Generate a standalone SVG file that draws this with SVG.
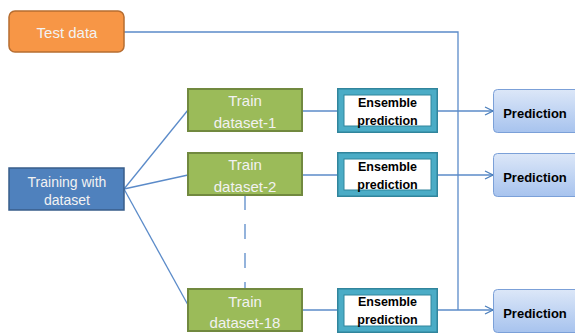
<svg xmlns="http://www.w3.org/2000/svg" width="575" height="333" viewBox="0 0 575 333">
<defs>
<linearGradient id="pg" x1="0" y1="0" x2="0" y2="1">
<stop offset="0" stop-color="#DCE7F8"/>
<stop offset="1" stop-color="#A7C3EE"/>
</linearGradient>
<marker id="arr" markerWidth="10" markerHeight="10" refX="9" refY="5" orient="auto" markerUnits="userSpaceOnUse">
<polyline points="1,1 9,5 1,9" fill="none" stroke="#4A7EBB" stroke-width="1.2"/>
</marker>
</defs>
<style>
.ln{fill:none;stroke:#5B8BC9;stroke-width:1.3}
.wt{font-family:"Liberation Sans",Arial,sans-serif;fill:#F2F2F2;text-anchor:middle}
.bk{font-family:"Liberation Sans",Arial,sans-serif;fill:#000;font-weight:bold;text-anchor:middle}
.train{fill:#9BBB59;stroke:#71893F;stroke-width:2}
.pred{fill:url(#pg);stroke:#7BA0D8;stroke-width:1}
</style>
<g id="connectors">
<polyline class="ln" points="124,32 458,32 458,310"/>
<line class="ln" x1="124" y1="189" x2="188" y2="110"/>
<line class="ln" x1="124" y1="189" x2="188" y2="175"/>
<line class="ln" x1="124" y1="189" x2="188" y2="305"/>
<line class="ln" x1="245" y1="195" x2="245" y2="289" stroke-dasharray="15,14"/>
<line class="ln" x1="302" y1="111" x2="337" y2="111"/>
<line class="ln" x1="302" y1="175" x2="337" y2="175"/>
<line class="ln" x1="302" y1="310" x2="337" y2="310"/>
<line class="ln" x1="438" y1="111" x2="493" y2="111" marker-end="url(#arr)"/>
<line class="ln" x1="438" y1="175" x2="493" y2="175" marker-end="url(#arr)"/>
<line class="ln" x1="438" y1="310" x2="493" y2="310" marker-end="url(#arr)"/>
</g>
<g id="test-data">
<rect x="9" y="11" width="115" height="41" rx="6" fill="#F79646" stroke="#B66D31" stroke-width="1.5"/>
<text class="wt" x="67" y="37.5" font-size="15">Test data</text>
</g>
<g id="training">
<rect x="9" y="168" width="115" height="42" fill="#4F81BD" stroke="#385D8A" stroke-width="1.5"/>
<text class="wt" x="67" y="187" font-size="14">Training with</text>
<text class="wt" x="67" y="204.5" font-size="14">dataset</text>
</g>
<g id="train1">
<rect class="train" x="188" y="89" width="114" height="42"/>
<text class="wt" x="245" y="106" font-size="15">Train</text>
<text class="wt" x="245" y="128" font-size="15">dataset-1</text>
</g>
<g id="train2">
<rect class="train" x="188" y="153" width="114" height="42"/>
<text class="wt" x="245" y="170" font-size="15">Train</text>
<text class="wt" x="245" y="191.5" font-size="15">dataset-2</text>
</g>
<g id="train18">
<rect class="train" x="188" y="289" width="114" height="42"/>
<text class="wt" x="245" y="307" font-size="15">Train</text>
<text class="wt" x="245" y="327.5" font-size="15">dataset-18</text>
</g>
<g id="ens1">
<rect x="337" y="88" width="101" height="45" fill="#31859C"/>
<rect x="338.5" y="89.5" width="98" height="42" fill="#4BACC6"/>
<rect x="344" y="95" width="87" height="31" fill="#fff" stroke="#31859C" stroke-width="1"/>
<text class="bk" x="387.5" y="107" font-size="12.5">Ensemble</text>
<text class="bk" x="387.5" y="125" font-size="12.5">prediction</text>
</g>
<g id="ens2">
<rect x="337" y="152" width="101" height="45" fill="#31859C"/>
<rect x="338.5" y="153.5" width="98" height="42" fill="#4BACC6"/>
<rect x="344" y="159" width="87" height="31" fill="#fff" stroke="#31859C" stroke-width="1"/>
<text class="bk" x="387.5" y="171" font-size="12.5">Ensemble</text>
<text class="bk" x="387.5" y="189" font-size="12.5">prediction</text>
</g>
<g id="ens3">
<rect x="337" y="288" width="101" height="45" fill="#31859C"/>
<rect x="338.5" y="289.5" width="98" height="42" fill="#4BACC6"/>
<rect x="344" y="295" width="87" height="31" fill="#fff" stroke="#31859C" stroke-width="1"/>
<text class="bk" x="387.5" y="306" font-size="12.5">Ensemble</text>
<text class="bk" x="387.5" y="324" font-size="12.5">prediction</text>
</g>
<g id="pred1">
<rect class="pred" x="493.5" y="89.5" width="90" height="43" rx="4"/>
<text class="bk" x="535" y="117.5" font-size="13">Prediction</text>
</g>
<g id="pred2">
<rect class="pred" x="493.5" y="153.5" width="90" height="43" rx="4"/>
<text class="bk" x="535" y="181.5" font-size="13">Prediction</text>
</g>
<g id="pred3">
<rect class="pred" x="493.5" y="289.5" width="90" height="43" rx="4"/>
<text class="bk" x="535" y="317.5" font-size="13">Prediction</text>
</g>
</svg>
